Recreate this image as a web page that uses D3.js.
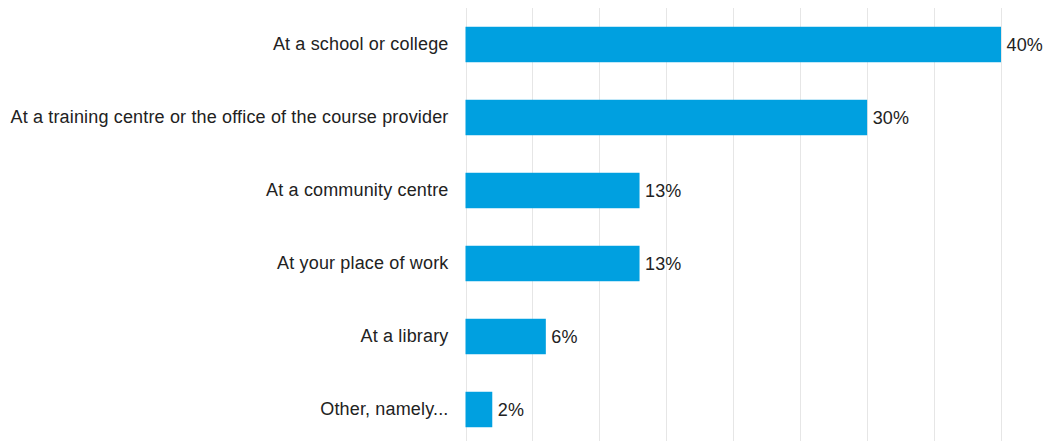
<!DOCTYPE html>
<html>
<head>
<meta charset="utf-8">
<script src="https://cdn.jsdelivr.net/npm/d3@7"></script>
<style>
  html, body { margin: 0; padding: 0; background: #ffffff; }
  svg { display: block; }
  text { font-family: "Liberation Sans", Arial, sans-serif; fill: #222222; letter-spacing: 0.16px; }
</style>
</head>
<body>
<svg id="chart" width="1047" height="441"></svg>
<script>
// Where respondents took their course (share of responses, %)
const categories = [
  "At a school or college",
  "At a training centre or the office of the course provider",
  "At a community centre",
  "At your place of work",
  "At a library",
  "Other, namely..."
];
const values = [40, 30, 13, 13, 6, 2];
const gridTicks = [0, 5, 10, 15, 20, 25, 30, 35, 40];

const svg = d3.select("#chart");
const plot = { left: 465.5, right: 1001, top: 8, bottom: 446 };

const x = d3.scaleLinear().domain([0, 40]).range([plot.left, plot.right]);
const y = d3.scaleBand()
  .domain(categories)
  .range([plot.top, plot.bottom])
  .paddingInner(0.514)
  .paddingOuter(0.257);

// vertical gridlines
svg.append("g")
  .selectAll("line")
  .data(gridTicks)
  .join("line")
  .attr("x1", d => Math.round(x(d)) + 0.5)
  .attr("x2", d => Math.round(x(d)) + 0.5)
  .attr("y1", plot.top)
  .attr("y2", plot.bottom)
  .attr("stroke", "#e6e6e6")
  .attr("stroke-width", 1);

// category axis labels
const yAxis = d3.axisLeft(y).tickSize(0).tickPadding(17);
const ya = svg.append("g")
  .attr("transform", `translate(${plot.left},0)`)
  .call(yAxis);
ya.select(".domain").remove();
ya.selectAll("text")
  .style("font-family", '"Liberation Sans", Arial, sans-serif')
  .style("font-size", "18px")
  .attr("fill", "#222222");

// bars
svg.append("g")
  .selectAll("rect")
  .data(values)
  .join("rect")
  .attr("x", x(0))
  .attr("y", (d, i) => y(categories[i]))
  .attr("width", d => x(d) - x(0))
  .attr("height", y.bandwidth())
  .attr("fill", "#00a0e0");

// value labels
svg.append("g")
  .selectAll("text")
  .data(values)
  .join("text")
  .attr("x", d => x(d) + 5.5)
  .attr("y", (d, i) => y(categories[i]) + y.bandwidth() / 2)
  .attr("dy", "0.35em")
  .style("font-size", "18px")
  .text(d => d + "%");
</script>
</body>
</html>
